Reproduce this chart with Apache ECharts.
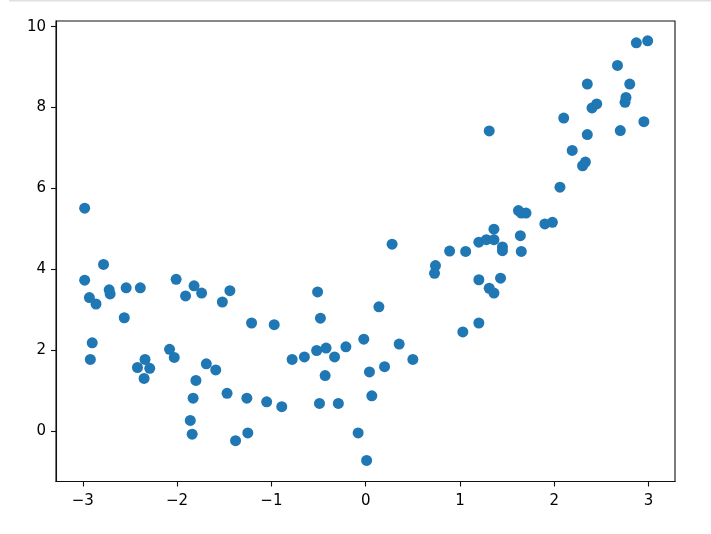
<!DOCTYPE html>
<html>
<head>
<meta charset="utf-8">
<script src="https://cdn.jsdelivr.net/npm/echarts@6/dist/echarts.min.js"></script>
<style>html,body{margin:0;padding:0;background:#fff}#c{width:711px;height:534px}</style>
</head>
<body>
<div id="c"></div>
<script>
const xValues = [-2.98,-2.78,-2.98,-2.93,-2.86,-2.72,-2.71,-2.54,-2.39,-2.56,-2.90,-2.92,-2.34,-2.42,-2.29,-2.35,-2.08,-2.03,-2.01,-1.82,-1.91,-1.74,-1.69,-1.59,-1.80,-1.83,-1.86,-1.84,-1.44,-1.52,-1.21,-0.97,-0.51,-0.48,-1.47,-1.26,-1.05,-0.89,-1.25,-1.38,-0.78,-0.65,-0.52,-0.42,-0.33,-0.21,-0.02,-0.43,-0.49,-0.29,-0.08,0.01,0.28,0.74,0.73,0.14,0.355,0.50,0.20,0.04,0.065,2.06,1.62,1.65,1.70,1.90,1.98,1.36,1.64,1.20,1.28,1.36,1.45,1.45,0.89,1.06,1.65,1.20,1.43,1.31,1.36,1.20,1.03,2.87,2.99,2.67,2.35,2.80,2.45,2.40,2.76,2.75,2.10,2.95,2.70,2.35,2.19,2.33,2.30,1.31];
const yValues = [5.51,4.12,3.73,3.30,3.14,3.49,3.39,3.54,3.54,2.80,2.18,1.77,1.77,1.57,1.55,1.30,2.02,1.82,3.75,3.59,3.34,3.41,1.66,1.51,1.25,0.81,0.26,-0.08,3.47,3.19,2.67,2.63,3.44,2.79,0.93,0.81,0.72,0.60,-0.05,-0.24,1.77,1.83,1.99,2.05,1.83,2.08,2.27,1.37,0.68,0.68,-0.05,-0.73,4.62,4.09,3.90,3.07,2.15,1.77,1.59,1.46,0.87,6.03,5.45,5.39,5.39,5.12,5.16,4.99,4.83,4.67,4.73,4.73,4.55,4.46,4.45,4.44,4.44,3.74,3.78,3.53,3.41,2.67,2.45,9.60,9.65,9.04,8.58,8.58,8.09,7.99,8.25,8.13,7.74,7.65,7.43,7.33,6.94,6.65,6.56,7.42];
const xTicks = [-3,-2,-1,0,1,2,3];
const yTicks = [0,2,4,6,8,10];

const points = xValues.map((x, i) => [x, yValues[i]]);
const fmt = v => (v < 0 ? '\u2212' + Math.abs(v) : String(v));
const font = { fontFamily: 'DejaVu Sans', fontSize: 15, color: '#000' };

const chart = echarts.init(document.getElementById('c'), null, { renderer: 'canvas' });
chart.setOption({
  animation: false,
  backgroundColor: '#fff',
  grid: { left: 56, right: 36, top: 21, bottom: 52.5, show: true, borderColor: '#111', borderWidth: 1.1, backgroundColor: 'transparent' },
  xAxis: {
    type: 'value', min: -3.284, max: 3.28,
    axisLine: { show: true, onZero: false, lineStyle: { color: '#111', width: 1.1 } },
    axisTick: { show: true, length: 5, lineStyle: { color: '#111', width: 1.1 }, customValues: xTicks },
    axisLabel: Object.assign({ margin: 12, formatter: fmt, customValues: xTicks }, font),
    splitLine: { show: false }
  },
  yAxis: {
    type: 'value', min: -1.25, max: 10.14,
    axisLine: { show: true, onZero: false, lineStyle: { color: '#111', width: 1.1 } },
    axisTick: { show: true, length: 5, lineStyle: { color: '#111', width: 1.1 }, customValues: yTicks },
    axisLabel: Object.assign({ margin: 10, formatter: fmt, customValues: yTicks }, font),
    splitLine: { show: false }
  },
  graphic: [{ type: 'rect', shape: { x: 9, y: 0, width: 702, height: 1.5 }, style: { fill: '#e0e0e0' }, silent: true }],
  series: [{
    type: 'scatter',
    data: points,
    symbol: 'circle',
    symbolSize: 11,
    itemStyle: { color: '#1f77b4', opacity: 1 }
  }]
});
</script>
</body>
</html>
